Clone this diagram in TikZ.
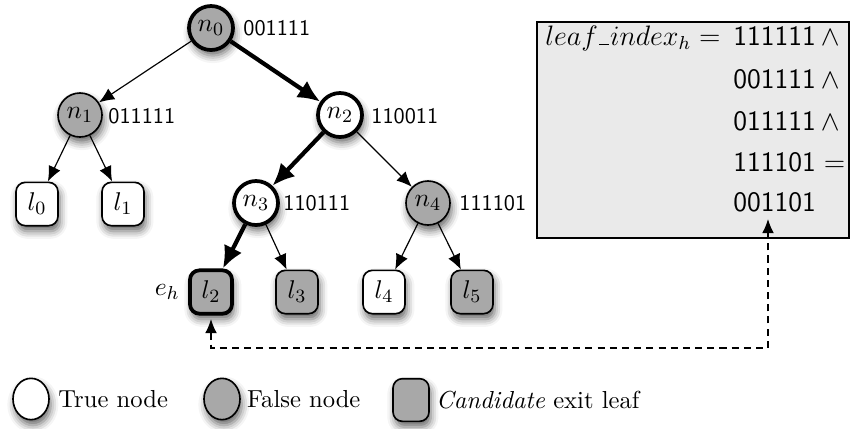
\documentclass[tikz,border=0pt]{standalone}
\usetikzlibrary{arrows.meta,shapes.geometric,positioning,shadows.blur}
\definecolor{nodegray}{RGB}{168,168,168}
\definecolor{boxgray}{RGB}{234,234,234}
\newcommand{\lowbar}{\kern0.6pt\rule[-0.2pt]{4pt}{0.45pt}\kern0.6pt}
\begin{document}
\begin{tikzpicture}[x=0.015cm,y=-0.015cm,
 shad/.style={blur shadow={shadow xshift=0.8pt,shadow yshift=-2.4pt,shadow blur radius=3.2pt,shadow opacity=60}},
 tnode/.style={circle,draw,fill=white,minimum size=0.66cm,inner sep=0pt,line width=0.7pt,font=\fontsize{11}{13}\selectfont,shad},
 fnode/.style={tnode,fill=nodegray},
 leafbox/.style={rectangle,rounded corners=4pt,draw,fill=white,minimum width=0.63cm,minimum height=0.65cm,inner sep=0pt,line width=0.7pt,font=\fontsize{11}{13}\selectfont,shad},
 cand/.style={leafbox,fill=nodegray},
 onpath/.style={line width=1.6pt},
 bits/.style={font=\sffamily\fontsize{9.5}{11}\selectfont,inner sep=0pt},
 boxtxt/.style={font=\fontsize{12}{14}\selectfont,inner sep=0pt},
 legtxt/.style={inner sep=1pt,font=\fontsize{10.5}{12}\selectfont},
 thinarr/.style={line width=0.5pt,-{Latex[length=6.5pt,width=5.5pt]}},
 thickarr/.style={line width=1.8pt,-{Latex[length=9.5pt,width=8.5pt]}},
 dashconn/.style={line width=0.5pt,dash pattern=on 3pt off 2.2pt,{Latex[length=6pt,width=5pt]}-{Latex[length=6pt,width=5pt]},shorten <=1.5pt}
]
\useasboundingbox (0,0) rectangle (852,428);

% tree nodes
\node[fnode,onpath] (n0) at (211,28) {$n_0$};
\node[fnode] (n1) at (80,115) {$n_1$};
\node[tnode,onpath] (n2) at (340,115) {$n_2$};
\node[tnode,onpath] (n3) at (256,203) {$n_3$};
\node[fnode] (n4) at (428,203) {$n_4$};
\node[leafbox] (l0) at (37,204) {$l_0$};
\node[leafbox] (l1) at (123,204) {$l_1$};
\node[cand,onpath] (l2) at (211,292) {$l_2$};
\node[cand] (l3) at (297,292) {$l_3$};
\node[leafbox] (l4) at (384,292) {$l_4$};
\node[cand] (l5) at (472,292) {$l_5$};

% edges
\draw[thinarr] (n0) -- (n1);
\draw[thickarr] (n0) -- (n2);
\draw[thinarr] (n1) -- (l0);
\draw[thinarr] (n1) -- (l1);
\draw[thickarr] (n2) -- (n3);
\draw[thinarr] (n2) -- (n4);
\draw[thickarr] (n3) -- (l2);
\draw[thinarr] (n3) -- (l3);
\draw[thinarr] (n4) -- (l4);
\draw[thinarr] (n4) -- (l5);

% bit labels
\node[bits,anchor=west] (b0) at (243,28) {001111};
\node[bits,anchor=west] (b1) at (108,116) {011111};
\node[bits,anchor=west] (b2) at (371,116) {110011};
\node[bits,anchor=west] (b3) at (283,203) {110111};
\node[bits,anchor=west] (b4) at (459,203) {111101};
\node[anchor=east,inner sep=0pt,font=\fontsize{11}{13}\selectfont] (eh) at (180,292) {$e_h$};

% formula box
\node[draw,fill=boxgray,line width=0.7pt,minimum width=4.68cm,minimum height=3.24cm,inner sep=0pt] (box) at (693,130) {};
\node[boxtxt,anchor=base east] (lhs) at (721,45) {$leaf\lowbar index_h =$};
\node[boxtxt,anchor=base west] (r1) at (733,45) {$\mathsf{111111}\,\wedge$};
\node[boxtxt,anchor=base west] (r2) at (733,88) {$\mathsf{001111}\,\wedge$};
\node[boxtxt,anchor=base west] (r3) at (733,130) {$\mathsf{011111}\,\wedge$};
\node[boxtxt,anchor=base west] (r4) at (733,171) {$\mathsf{111101} =$};
\node[boxtxt,anchor=base west] (r5) at (733,211) {$\mathsf{001101}$};

% dashed connector
\coordinate (tip) at (768,219);
\coordinate (low) at (211,348);
\draw[dashconn] (l2.south) -- (l2.south |- low) -| (tip);

% legend
\node[tnode,shape=ellipse,minimum width=0.54cm,minimum height=0.62cm] (lt) at (31,399) {};
\node[legtxt,right=2.5pt of lt] (ltt) {True node};
\node[fnode,shape=ellipse,minimum width=0.54cm,minimum height=0.62cm] (lf) at (222,399) {};
\node[legtxt,right=1.5pt of lf] (lft) {False node};
\node[cand,minimum width=0.54cm,minimum height=0.64cm] (lc) at (411,400) {};
\node[legtxt,right=1.5pt of lc] (lct) {\textit{Candidate} exit leaf};
\end{tikzpicture}
\end{document}
